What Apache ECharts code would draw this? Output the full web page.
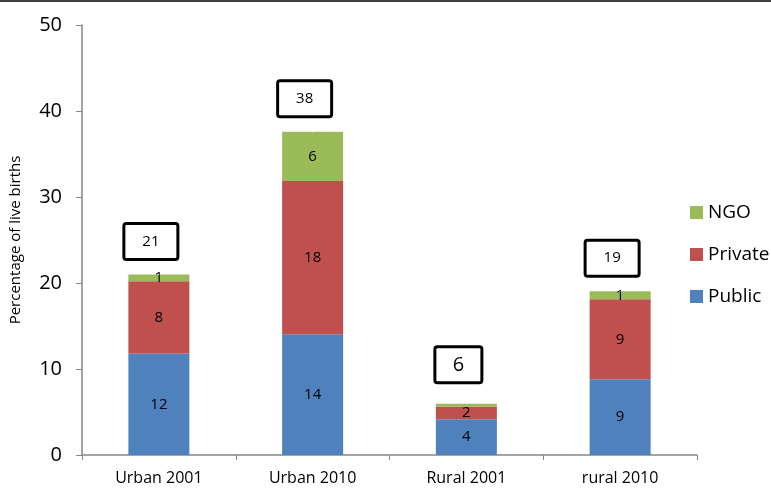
<!DOCTYPE html>
<html>
<head>
<meta charset="utf-8">
<script src="https://cdn.jsdelivr.net/npm/echarts@6/dist/echarts.min.js"></script>
<style>
  html, body { margin: 0; padding: 0; background: #fff; }
  #chart { width: 771px; height: 488px; }
</style>
</head>
<body>
<div id="chart"></div>
<script>
  // values (percentage of live births)
  var categories = ['Urban 2001', 'Urban 2010', 'Rural 2001', 'rural 2010'];
  var publicVals = [11.8, 14.05, 4.15, 8.8];
  var privateVals = [8.4, 17.8, 1.5, 9.3];
  var ngoVals = [0.8, 5.75, 0.3, 0.95];
  var totals = [21, 38, 6, 19];
  var yTicks = [0, 10, 20, 30, 40, 50];

  var font = '"Open Sans", "Noto Sans", sans-serif';

  function roundLabel(p) {
    var v = Math.round(p.value);
    return v > 0 && p.value >= 0.5 ? String(v) : '';
  }

  function segment(name, data, color) {
    return {
      name: name,
      type: 'bar',
      stack: 'all',
      barWidth: 61,
      data: data,
      itemStyle: { color: color },
      label: {
        show: true,
        position: 'inside',
        color: '#000',
        fontSize: 15,
        fontFamily: font,
        formatter: roundLabel
      }
    };
  }

  var stackTop = categories.map(function (c, i) {
    return publicVals[i] + privateVals[i] + ngoVals[i];
  });

  var chart = echarts.init(document.getElementById('chart'));

  chart.setOption({
    animation: false,
    backgroundColor: '#fff',
    grid: { left: 82, right: 74, top: 25, bottom: 33 },
    legend: {
      orient: 'vertical',
      left: 685,
      top: 197,
      itemWidth: 13,
      itemHeight: 13,
      itemGap: 21,
      icon: 'rect',
      data: ['NGO', 'Private', 'Public'],
      textStyle: { fontSize: 19, lineHeight: 21, fontFamily: font, color: '#000' }
    },
    xAxis: {
      type: 'category',
      data: categories,
      axisLine: { lineStyle: { color: '#868686', width: 1.5 } },
      axisTick: { show: true, length: 5, lineStyle: { color: '#868686' } },
      axisLabel: { fontSize: 16, fontFamily: font, color: '#000', margin: 15 }
    },
    yAxis: {
      type: 'value',
      min: yTicks[0],
      max: yTicks[yTicks.length - 1],
      interval: 10,
      name: 'Percentage of live births',
      nameLocation: 'middle',
      nameGap: 59,
      nameTextStyle: { fontSize: 15, fontFamily: font, color: '#000' },
      splitLine: { show: false },
      axisLine: { show: true, lineStyle: { color: '#868686', width: 1.5 } },
      axisTick: { show: true, length: 6, lineStyle: { color: '#868686' } },
      axisLabel: { fontSize: 20, fontFamily: font, color: '#000', margin: 20 }
    },
    series: [
      segment('Public', publicVals, '#4F81BD'),
      segment('Private', privateVals, '#C0504D'),
      segment('NGO', ngoVals, '#9BBB59'),
      {
        name: 'Total',
        type: 'scatter',
        data: stackTop.map(function (v, i) {
          return i === 2 ? { value: v, label: { distance: 22, width: 44 } } : v;
        }),
        symbolSize: 1,
        itemStyle: { color: '#fff', opacity: 1 },
        emphasis: { disabled: true },
        z: 5,
        label: {
          show: true,
          opacity: 1,
          position: 'top',
          distance: 16,
          offset: [-8, 0],
          formatter: function (p) {
            return p.dataIndex === 2 ? '{b|' + totals[p.dataIndex] + '}' : '{a|' + totals[p.dataIndex] + '}';
          },
          rich: {
            a: { fontSize: 15, fontFamily: font, color: '#000' },
            b: { fontSize: 20, fontFamily: font, color: '#000' }
          },
          color: '#000',
          width: 51,
          height: 33,
          lineHeight: 33,
          align: 'center',
          backgroundColor: '#fff',
          borderColor: '#000',
          borderWidth: 3,
          borderRadius: 1
        }
      }
    ],
    graphic: [
      {
        type: 'rect',
        shape: { x: 0, y: 0, width: 771, height: 2 },
        style: { fill: '#404040' }
      }
    ]
  });
</script>
</body>
</html>
